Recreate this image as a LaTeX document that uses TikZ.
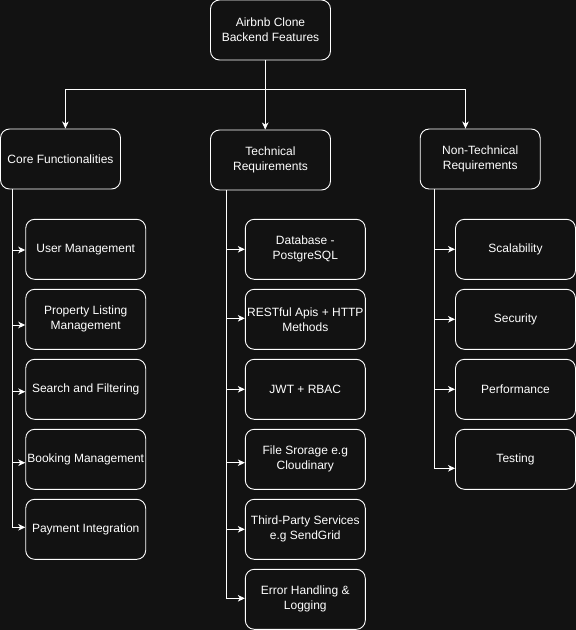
\documentclass[tikz,border=0pt]{standalone}
\usepackage{fontspec}
\setmainfont{Liberation Sans}
\usetikzlibrary{arrows.meta,calc}
\definecolor{bgc}{HTML}{121212}
\tikzset{
  box/.style={draw=white, line width=0.9pt, rounded corners=9pt, fill=bgc,
    minimum width=120pt, minimum height=60pt, inner sep=1pt,
    align=center, text=white, font=\fontsize{12}{15}\selectfont},
  conn/.style={draw=white, line width=0.9pt},
  arr/.style={conn, -{Stealth[length=7pt,width=6.5pt,inset=2pt]}}
}
\begin{document}
\begin{tikzpicture}[x=1pt,y=-1pt]
\fill[bgc] (0,0) rectangle (576,630);
\useasboundingbox (0,0) rectangle (576,630);

\node[box] (root) at (270.5,30) {Airbnb Clone\\Backend Features};
\node[box] (core) at (60.5,159) {Core Functionalities};
\node[box] (tech) at (270.5,160) {Technical\\Requirements};
\node[box] (ntech) at (480.2,159) {Non-Technical\\Requirements};

% core children
\node[box] (c1) at (85.7,249.3) {User Management};
\node[box] (c2) at (85.7,319.3) {Property Listing\\Management};
\node[box] (c3) at (85.7,389.3) {Search and Filtering};
\node[box] (c4) at (85.7,459.3) {Booking Management};
\node[box] (c5) at (85.7,529.3) {Payment Integration};

% technical children
\node[box] (t1) at (305.3,249.3) {Database -\\PostgreSQL};
\node[box] (t2) at (305.3,319.3) {RESTful Apis + HTTP\\Methods};
\node[box] (t3) at (305.3,389.3) {JWT + RBAC};
\node[box] (t4) at (305.3,459.3) {File Srorage e.g\\Cloudinary};
\node[box] (t5) at (305.3,529.3) {Third-Party Services\\e.g SendGrid};
\node[box] (t6) at (305.3,599.3) {Error Handling \&\\Logging};

% non-technical children
\node[box] (n1) at (515.5,249.3) {Scalability};
\node[box] (n2) at (515.5,319.3) {Security};
\node[box] (n3) at (515.5,389.3) {Performance};
\node[box] (n4) at (515.5,459.3) {Testing};

% top-level connectors
\coordinate (jm) at (265.2,89);
\coordinate (jl) at (65.4,89);
\coordinate (jr) at (465.5,89);
\draw[conn] (root.south -| jm) -- (jm);
\draw[conn] (jl) -- (jr);
\draw[arr] (jl) -- (core.north -| jl);
\draw[arr] (jm) -- (tech.north -| jm);
\draw[arr] (jr) -- (ntech.north -| jr);

% core column
\coordinate (cv) at (12.3,0);
\coordinate (ca1) at ($(c1.west)+(0,0.7)$);
\coordinate (ca2) at ($(c2.west)+(0,5.7)$);
\coordinate (ca3) at ($(c3.west)+(0,2.4)$);
\coordinate (ca4) at ($(c4.west)+(0,3.4)$);
\coordinate (ca5) at ($(c5.west)+(0,-2)$);
\draw[conn] (core.south -| cv) -- (ca5 -| cv);
\foreach \a in {ca1,ca2,ca3,ca4,ca5}{\draw[arr] (\a -| cv) -- (\a);}

% technical column
\coordinate (tv) at (226,0);
\coordinate (ta1) at ($(t1.west)+(0,0)$);
\coordinate (ta2) at ($(t2.west)+(0,-1)$);
\coordinate (ta3) at ($(t3.west)+(0,0)$);
\coordinate (ta4) at ($(t4.west)+(0,3.4)$);
\coordinate (ta5) at ($(t5.west)+(0,0)$);
\coordinate (ta6) at ($(t6.west)+(0,-1)$);
\draw[conn] (tech.south -| tv) -- (ta6 -| tv);
\foreach \a in {ta1,ta2,ta3,ta4,ta5,ta6}{\draw[arr] (\a -| tv) -- (\a);}

% non-technical column
\coordinate (nv) at (434.3,0);
\coordinate (na1) at ($(n1.west)+(0,0)$);
\coordinate (na2) at ($(n2.west)+(0,0)$);
\coordinate (na3) at ($(n3.west)+(0,0)$);
\coordinate (na4) at ($(n4.west)+(0,9)$);
\draw[conn] (ntech.south -| nv) -- (na4 -| nv);
\foreach \a in {na1,na2,na3,na4}{\draw[arr] (\a -| nv) -- (\a);}
\end{tikzpicture}
\end{document}
